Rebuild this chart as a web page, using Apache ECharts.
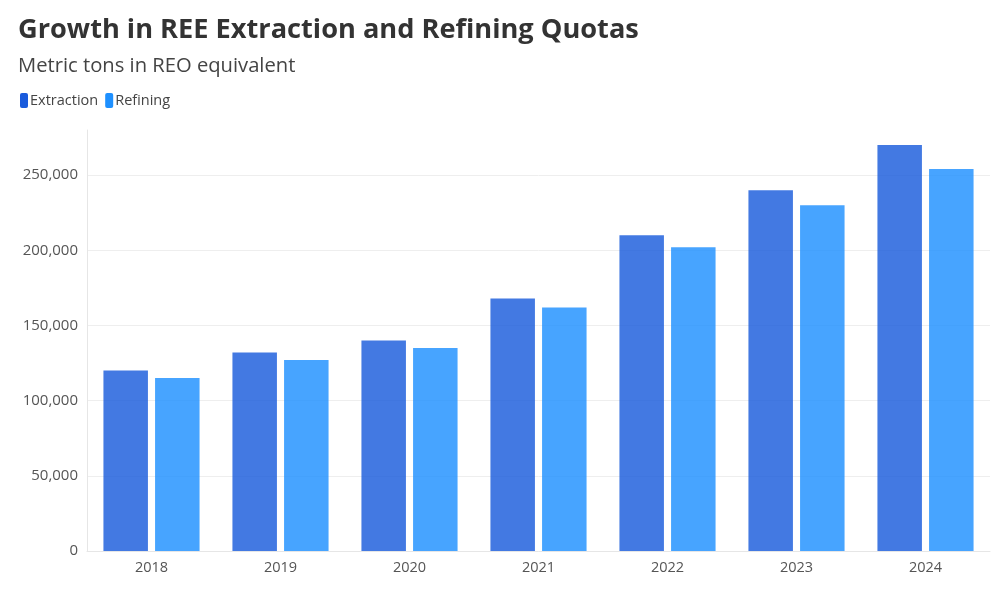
<!DOCTYPE html>
<html>
<head>
<meta charset="utf-8">
<script src="https://cdn.jsdelivr.net/npm/echarts@6/dist/echarts.min.js"></script>
<style>html,body{margin:0;padding:0;background:#fff}#c{width:994px;height:592px}</style>
</head>
<body>
<div id="c"></div>
<script>
const years = ['2018','2019','2020','2021','2022','2023','2024'];
const extraction = [120000, 132000, 140000, 168000, 210000, 240000, 270000];
const refining = [115000, 127000, 135000, 162000, 202000, 230000, 254000];
const seriesNames = ['Extraction', 'Refining'];
const colors = ['#1a5bdc', '#1e90ff'];
const barColors = ['rgba(26,91,220,0.82)', 'rgba(30,144,255,0.82)'];
const font = '"Open Sans", "Noto Sans", sans-serif';

const chart = echarts.init(document.getElementById('c'));
chart.setOption({
  animation: false,
  title: [
    { text: 'Growth in REE Extraction and Refining Quotas', left: 13, top: 12,
      textStyle: { fontFamily: font, fontSize: 27.2, fontWeight: 'bold', color: '#333' } },
    { text: 'Metric tons in REO equivalent', left: 13, top: 51,
      textStyle: { fontFamily: font, fontSize: 20.2, fontWeight: 'normal', color: '#444' } }
  ],
  legend: {
    left: 15, top: 88, itemWidth: 8, itemHeight: 15, itemGap: 7,
    icon: 'roundRect',
    textStyle: { fontFamily: font, fontSize: 14.5, color: '#444', padding: [0, 0, 0, -3] },
    data: [
      { name: seriesNames[0], itemStyle: { color: colors[0], opacity: 1 } },
      { name: seriesNames[1], itemStyle: { color: colors[1], opacity: 1 } }
    ]
  },
  grid: { left: 87, right: 4, top: 130, bottom: 41 },
  xAxis: {
    type: 'category', data: years,
    axisLine: { lineStyle: { color: '#e6e6e6' } },
    axisTick: { show: false },
    axisLabel: { fontFamily: font, fontSize: 14.5, color: '#555', margin: 9 }
  },
  yAxis: {
    type: 'value', min: 0, max: 280000, interval: 50000,
    axisLine: { show: true, lineStyle: { color: '#e6e6e6' } },
    axisTick: { show: false },
    splitLine: { show: true, showMaxLine: false, lineStyle: { color: '#eeeeee' } },
    axisLabel: { fontFamily: font, fontSize: 15, color: '#555', margin: 9, showMaxLabel: false,
      formatter: v => v.toLocaleString('en-US') }
  },
  series: [
    { name: seriesNames[0], type: 'bar', data: extraction, barWidth: '34.5%', barGap: '16%',
      itemStyle: { color: barColors[0] } },
    { name: seriesNames[1], type: 'bar', data: refining, barWidth: '34.5%', barGap: '16%',
      itemStyle: { color: barColors[1] } }
  ]
});
</script>
</body>
</html>
